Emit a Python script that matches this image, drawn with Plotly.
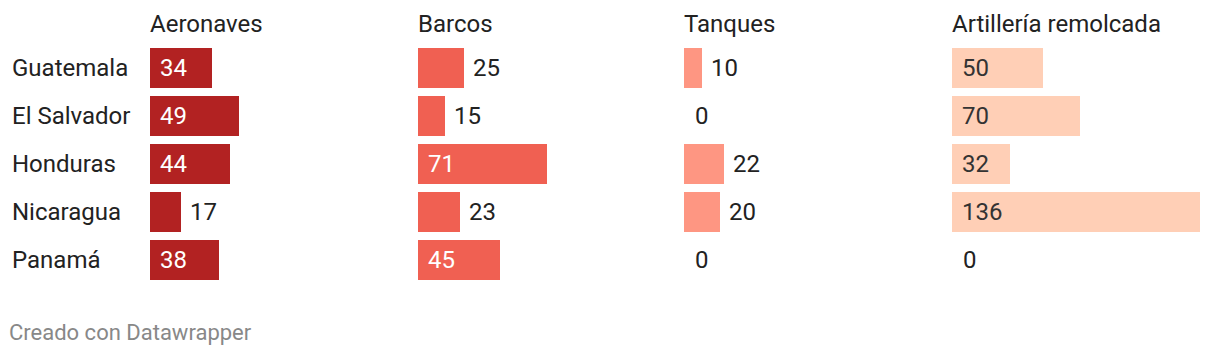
import plotly.graph_objects as go

countries = ["Guatemala", "El Salvador", "Honduras", "Nicaragua", "Panamá"]
categories = ["Aeronaves", "Barcos", "Tanques", "Artillería remolcada"]
aeronaves = [34, 49, 44, 17, 38]
barcos = [25, 15, 71, 23, 45]
tanques = [10, 0, 22, 20, 0]
artilleria = [50, 70, 32, 136, 0]
series = [aeronaves, barcos, tanques, artilleria]

colors = ["#b22222", "#f06052", "#fe9682", "#ffcfb6"]
inside_text = ["#ffffff", "#ffffff", "#ffffff", "#333333"]
panel_left = [150, 418, 684, 952]
panel_w = 248
W, H = 1220, 356
xmax = 136
row0, step, barh = 68, 48, 40
FONT = "Roboto"
DARK = "#222222"
FS = 24

fig = go.Figure()
annotations = []
ypos = list(range(len(countries)))

for k, (cat, vals) in enumerate(zip(categories, series)):
    ax = "x" if k == 0 else f"x{k+1}"
    fig.add_trace(go.Bar(
        x=vals, y=ypos, orientation="h", xaxis=ax, yaxis="y",
        marker=dict(color=colors[k], line=dict(width=0)),
        width=barh / step, hoverinfo="skip", showlegend=False,
    ))
    axkey = "xaxis" if k == 0 else f"xaxis{k+1}"
    d0 = panel_left[k] / W
    d1 = (panel_left[k] + panel_w) / W
    fig.layout[axkey] = dict(domain=[d0, d1], range=[0, xmax], visible=False,
                             fixedrange=True, anchor="y")
    axref = "x" if k == 0 else f"x{k+1}"
    annotations.append(dict(x=(panel_left[k] - 2) / W, y=1 - 24 / H, xref="paper", yref="paper",
                            text=cat, showarrow=False, xanchor="left", yanchor="middle",
                            font=dict(family=FONT, size=FS, color=DARK)))
    for i, v in enumerate(vals):
        if v >= 30:
            annotations.append(dict(x=0, y=i, xref=axref, yref="y", text=str(v),
                                    showarrow=False, xanchor="left", yanchor="middle",
                                    xshift=8, font=dict(family=FONT, size=FS, color=inside_text[k])))
        else:
            annotations.append(dict(x=v, y=i, xref=axref, yref="y", text=str(v),
                                    showarrow=False, xanchor="left", yanchor="middle",
                                    xshift=7 if v > 0 else 9,
                                    font=dict(family=FONT, size=FS, color=DARK)))

for i, c in enumerate(countries):
    annotations.append(dict(x=10 / W, y=i, xref="paper", yref="y", text=c, showarrow=False,
                            xanchor="left", yanchor="middle",
                            font=dict(family=FONT, size=FS, color=DARK)))

annotations.append(dict(x=7 / W, y=1 - 332 / H, xref="paper", yref="paper",
                        text="Creado con Datawrapper", showarrow=False,
                        xanchor="left", yanchor="middle",
                        font=dict(family=FONT, size=22, color="#888888")))

ytop = -row0 / step
ybot = (H - row0) / step
fig.update_layout(
    width=W, height=H, margin=dict(l=0, r=0, t=0, b=0),
    paper_bgcolor="white", plot_bgcolor="white",
    yaxis=dict(domain=[0, 1], range=[ybot, ytop], visible=False, fixedrange=True),
    annotations=annotations, bargap=0,
    font=dict(family=FONT),
)

fig.write_html("out.html", config={"displayModeBar": False})
